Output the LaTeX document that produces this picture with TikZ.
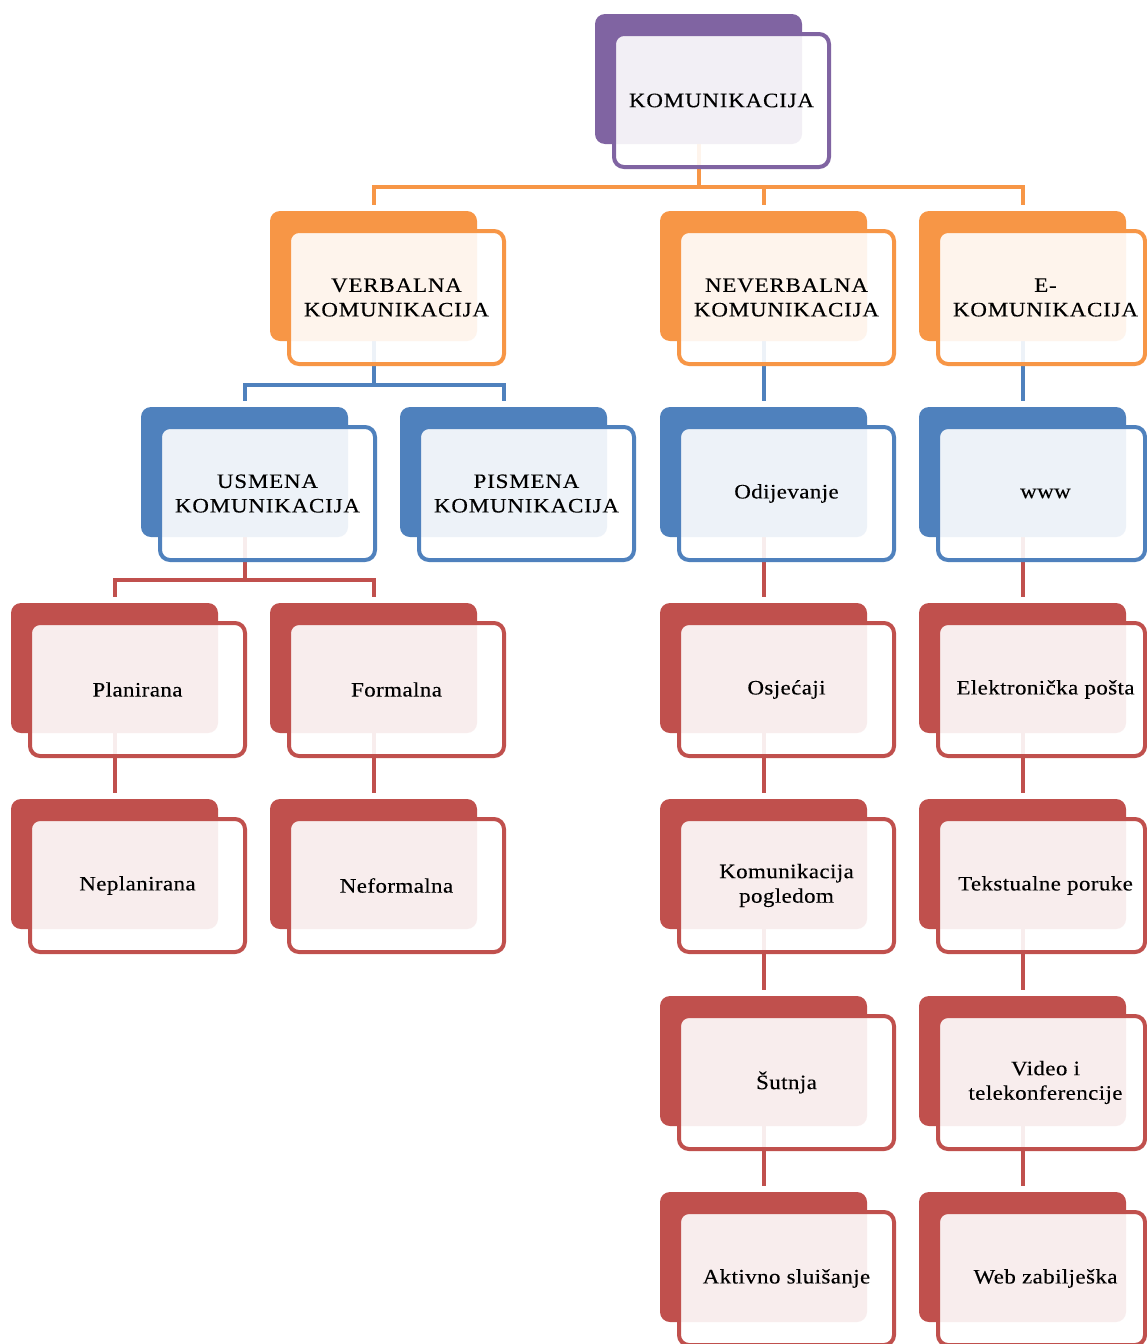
\documentclass[tikz,border=0pt]{standalone}
\usepackage{fontspec}
\setmainfont{Liberation Serif}
\newfontfamily\lowf[LetterSpace=2,FakeStretch=1.12,FakeBold=0.2]{Liberation Serif}
\newfontfamily\capf[LetterSpace=4,FakeStretch=1.12,FakeBold=0.2]{Liberation Serif}
\usetikzlibrary{backgrounds}
\definecolor{cpurple}{HTML}{8064A2}
\definecolor{corange}{HTML}{F79646}
\definecolor{cblue}{HTML}{4F81BD}
\definecolor{cred}{HTML}{C0504D}
\newcommand\mybox[7][0pt]{%
  \node[backbox=#3] (#2-b) at (#4,#5) {};
  \node[frontbox=#3] (#2) at (#4+19,#5+20) {};
  \node[#6] (#2-t) at ([xshift=#1]#2.center) {#7};
}
\begin{document}
\begin{tikzpicture}[x=1pt,y=-1pt,
  backbox/.style={fill=#1, draw=none, rounded corners=10pt, minimum width=207pt, minimum height=130pt, anchor=north west, inner sep=0pt, outer sep=0pt},
  frontbox/.style={draw=#1, line width=4pt, fill=white, fill opacity=0.9, rounded corners=10pt, minimum width=215pt, minimum height=133pt, anchor=north west, inner sep=0pt, outer sep=0pt},
  narrow/.style={minimum width=207pt},
  conn/.style={draw=#1, line width=4pt, line join=miter, shorten >=6pt},
  capt/.style={align=center, text=black, inner sep=0pt, font=\capf\fontsize{20.5}{24.5}\selectfont},
  lowt/.style={align=center, text=black, inner sep=0pt, font=\lowf\fontsize{20.5}{24.5}\selectfont},
]
\useasboundingbox (0,0) rectangle (1147,1344);
% nodes
\mybox{kom}{cpurple}{595}{14}{capt}{KOMUNIKACIJA}
\mybox{verb}{corange}{270}{211}{capt}{VERBALNA\\KOMUNIKACIJA}
\mybox{nev}{corange}{660}{211}{capt}{NEVERBALNA\\KOMUNIKACIJA}
\tikzset{frontbox/.append style={narrow}}
\mybox[4pt]{ekom}{corange}{919}{211}{capt}{E-\\KOMUNIKACIJA}
\mybox[4pt]{www}{cblue}{919}{407}{lowt}{www}
\mybox[4pt]{elek}{cred}{919}{603}{lowt}{Elektronička pošta}
\mybox[4pt]{tekst}{cred}{919}{799}{lowt}{Tekstualne poruke}
\mybox[4pt]{video}{cred}{919}{996}{lowt}{Video i\\telekonferencije}
\mybox[4pt]{web}{cred}{919}{1192}{lowt}{Web zabilješka}
\tikzset{frontbox/.append style={minimum width=215pt}}
\mybox{usm}{cblue}{141}{407}{capt}{USMENA\\KOMUNIKACIJA}
\mybox{pis}{cblue}{400}{407}{capt}{PISMENA\\KOMUNIKACIJA}
\mybox{odij}{cblue}{660}{407}{lowt}{Odijevanje}
\mybox{plan}{cred}{11}{603}{lowt}{Planirana}
\mybox{form}{cred}{270}{603}{lowt}{Formalna}
\mybox{osj}{cred}{660}{603}{lowt}{Osjećaji}
\mybox{nepl}{cred}{11}{799}{lowt}{Neplanirana}
\mybox{nefo}{cred}{270}{799}{lowt}{Neformalna}
\mybox{kpog}{cred}{660}{799}{lowt}{Komunikacija\\pogledom}
\mybox{sut}{cred}{660}{996}{lowt}{Šutnja}
\mybox{akt}{cred}{660}{1192}{lowt}{Aktivno sluišanje}
% connectors
\begin{pgfonlayer}{background}
\fill[white] (0,0) rectangle (1147,1344);
\coordinate (y1) at (0,187);
\coordinate (y2) at (0,385);
\coordinate (y3) at (0,580);
\draw[conn=corange] (kom-b.south) |- (verb-b.north |- y1) -- (verb-b.north);
\draw[conn=corange] (kom-b.south) |- (nev-b.north |- y1) -- (nev-b.north);
\draw[conn=corange] (kom-b.south) |- (ekom-b.north |- y1) -- (ekom-b.north);
\draw[conn=cblue] (verb-b.south) |- (usm-b.north |- y2) -- (usm-b.north);
\draw[conn=cblue] (verb-b.south) |- (pis-b.north |- y2) -- (pis-b.north);
\draw[conn=cblue] (nev-b.south) -- (odij-b.north);
\draw[conn=cblue] (ekom-b.south) -- (www-b.north);
\draw[conn=cred] (usm-b.south) |- (plan-b.north |- y3) -- (plan-b.north);
\draw[conn=cred] (usm-b.south) |- (form-b.north |- y3) -- (form-b.north);
\draw[conn=cred] (plan-b.south) -- (nepl-b.north);
\draw[conn=cred] (form-b.south) -- (nefo-b.north);
\draw[conn=cred] (odij-b.south) -- (osj-b.north);
\draw[conn=cred] (osj-b.south) -- (kpog-b.north);
\draw[conn=cred] (kpog-b.south) -- (sut-b.north);
\draw[conn=cred] (sut-b.south) -- (akt-b.north);
\draw[conn=cred] (www-b.south) -- (elek-b.north);
\draw[conn=cred] (elek-b.south) -- (tekst-b.north);
\draw[conn=cred] (tekst-b.south) -- (video-b.north);
\draw[conn=cred] (video-b.south) -- (web-b.north);
\end{pgfonlayer}
\end{tikzpicture}
\end{document}
